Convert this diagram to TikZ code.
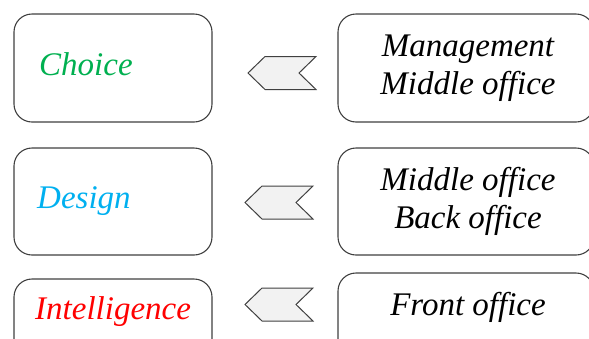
\documentclass[tikz,border=0pt]{standalone}
\usepackage{fontspec}
\setmainfont{Liberation Serif}
\definecolor{choicegreen}{RGB}{0,176,80}
\definecolor{designblue}{RGB}{0,176,240}
\definecolor{framegray}{RGB}{64,64,64}
\definecolor{arrowfill}{RGB}{242,242,242}
\tikzset{
  panel/.style={draw=framegray, line width=1.1pt, rounded corners=18pt, fill=white},
  label/.style={font=\fontsize{33}{38}\selectfont\itshape, inner sep=0pt, anchor=base west},
  centred/.style={font=\fontsize{33}{38}\selectfont\itshape, inner sep=0pt, align=center},
  chevron/.style={draw=framegray, line width=1pt, fill=arrowfill, line join=miter},
  pics/pointer/.style={code={
    \draw[chevron] (0,0) -- (17,-16.5) -- (68,-16.5) -- (51,0) -- (68,16.5) -- (17,16.5) -- cycle;
  }}
}
\begin{document}
\begin{tikzpicture}[x=1pt,y=-1pt]
  \useasboundingbox (0,0) rectangle (589,338);
  \begin{scope}
    \clip (0,0) rectangle (589,338);
    % left column: decision phases
    \draw[panel] (14,14) rectangle (212,122) coordinate (choiceBR);
    \draw[panel] (14,148) rectangle (212,255) coordinate (designBR);
    \draw[panel] (14,279) rectangle (212,360) coordinate (intelBR);
    % right column: organisational levels
    \draw[panel] (338,14) rectangle (594,122) coordinate (mgmtBR);
    \draw[panel] (338,148) rectangle (594,255) coordinate (midBR);
    \draw[panel] (338,273) rectangle (594,360) coordinate (frontBR);
  \end{scope}

  \node[label, text=choicegreen] (choice) at (39,75) {Choice};
  \node[label, text=designblue] (design) at (37,208) {Design};
  \node[label, text=red] (intel) at (35,319) {Intelligence};

  \node[centred] (mgmt) at (468,68) {Management\\Middle office};
  \node[centred] (mid) at (468,201) {Middle office\\Back office};
  \node[centred] (front) at (468,307) {Front office};

  % chevrons pointing from the levels to the phases
  \pic at (248,73) {pointer};
  \pic at (245,202.5) {pointer};
  \pic at (245,304.5) {pointer};
\end{tikzpicture}
\end{document}
